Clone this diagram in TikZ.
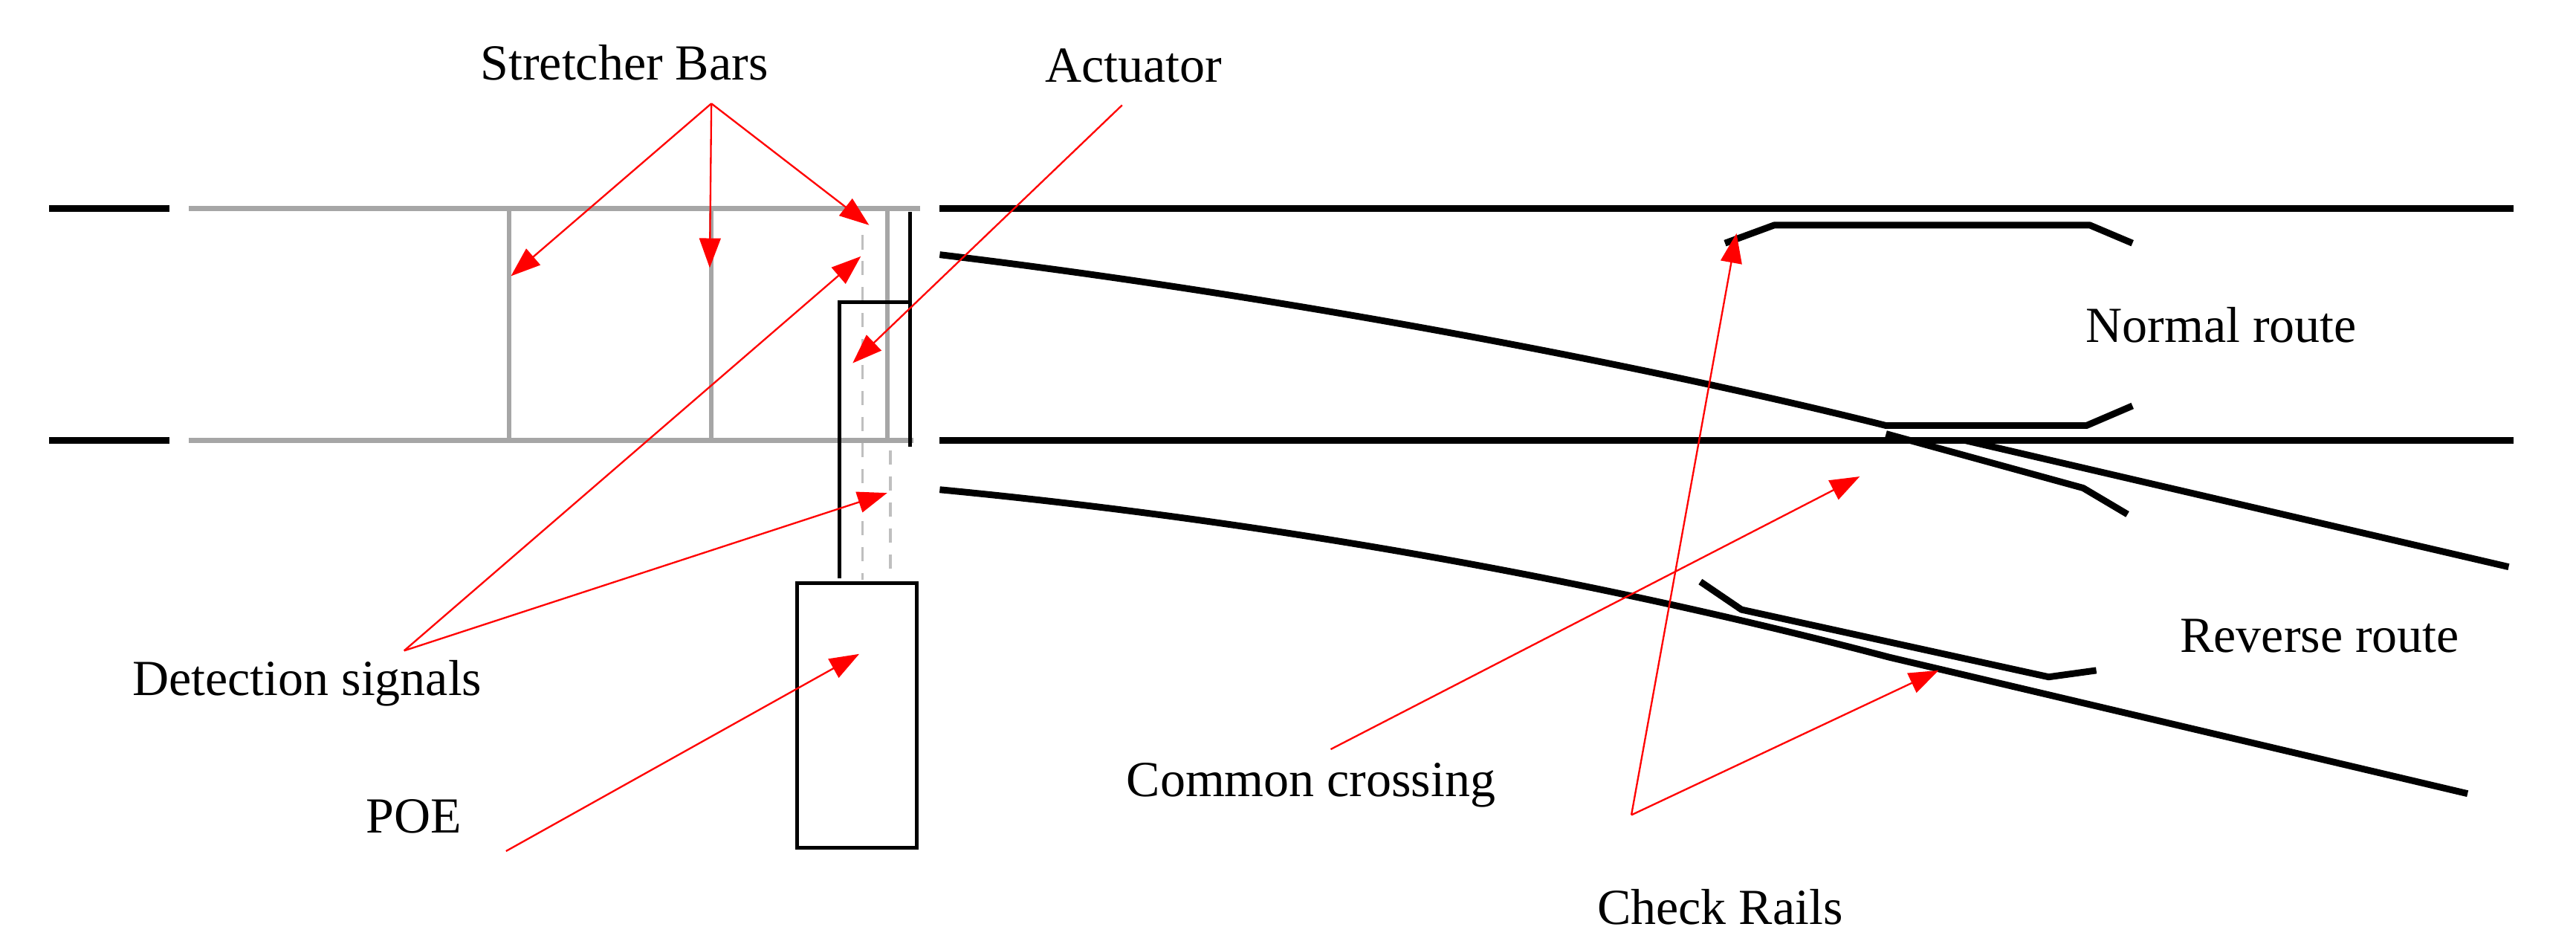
\documentclass[tikz,border=0pt]{standalone}
\usepackage{fontspec}
\setmainfont{Liberation Serif}
\usetikzlibrary{arrows.meta}
\begin{document}
\begin{tikzpicture}[x=0.02cm,y=-0.02cm,
  rail/.style={line width=2.3pt,black},
  grail/.style={line width=1.8pt,gray!70},
  bar/.style={line width=1.5pt,gray!70},
  dashrail/.style={line width=1pt,gray!50,dash pattern=on 5pt off 4pt},
  thinb/.style={line width=1.3pt,black},
  ptr/.style={red,line width=0.6pt,-{Triangle[length=0.36cm,width=0.26cm]}},
  lbl/.style={font=\fontsize{17.5}{20}\selectfont,inner sep=0pt}]
\useasboundingbox (0,0) rectangle (1568,576);
% left stubs and gray rails
\draw[rail] (30,127) -- (103,127);
\draw[rail] (30,268) -- (103,268);
\draw[grail] (115,127) -- (560,127);
\draw[grail] (115,268) -- (556,268);
\foreach \x in {310,433,540} \draw[bar] (\x,127) -- (\x,268);
\draw[dashrail] (525,143) -- (525,353);
\draw[dashrail] (542,274) -- (542,353);
% actuator
\draw[thinb] (554,129) -- (554,272);
\draw[thinb] (511,352) -- (511,184) -- (554,184);
\draw[thinb] (485,355) rectangle (558,516);
% right rails
\draw[rail] (572,127) -- (1530,127);
\draw[rail] (572,268) -- (1530,268);
% upper turnout curve and wing
\draw[rail,line join=round] (572,155) .. controls (780,180) and (1000,222) .. (1148,259) -- (1270,259) -- (1298,247);
\draw[rail,line join=round] (1148,264) -- (1268,297) -- (1295,313);
\draw[rail] (1196,268) -- (1527,345);
% lower curve
\draw[rail] (572,298) .. controls (760,316) and (960,350) .. (1150,400) -- (1502,483);
% check rails
\draw[rail,line join=round] (1050,148) -- (1080,137) -- (1272,137) -- (1298,148);
\draw[rail,line join=round] (1035,354) -- (1060,371) -- (1247,412) -- (1276,408);
% labels
\node[lbl] (sb) at (380,38) {Stretcher Bars};
\node[lbl] (act) at (690,40) {Actuator};
\node[lbl] (ds) at (187,416) {Detection signals};
\node[lbl] (poel) at (252,497) {POE};
\node[lbl] (cc) at (798,478) {Common crossing};
\node[lbl] (cr) at (1047,552) {Check Rails};
\node[lbl] (nr) at (1352,198) {Normal route};
\node[lbl] (rr) at (1412,387) {Reverse route};
% pointers
\coordinate (sbo) at (433,63);
\draw[ptr] (sbo) -- (311,168);
\draw[ptr] (sbo) -- (432,163);
\draw[ptr] (sbo) -- (529,137);
\draw[ptr] (683,64) -- (519,221);
\coordinate (dso) at (246,396);
\draw[ptr] (dso) -- (524,156);
\draw[ptr] (dso) -- (540,300);
\draw[ptr] (308,518) -- (523,398);
\draw[ptr] (810,456) -- (1132,290);
\coordinate (cro) at (993,496);
\draw[ptr] (cro) -- (1057,142);
\draw[ptr] (cro) -- (1180,408);
\end{tikzpicture}
\end{document}
